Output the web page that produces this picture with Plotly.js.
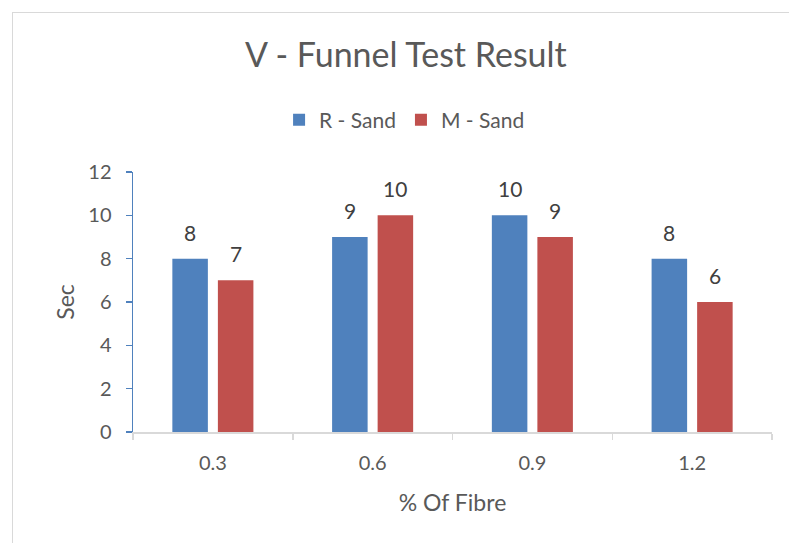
<!DOCTYPE html>
<html>
<head>
<meta charset="utf-8">
<script src="https://cdn.plot.ly/plotly-3.0.1.min.js"></script>
<style>
  html, body { margin: 0; padding: 0; background: #ffffff; }
  #wrap { position: relative; width: 789px; height: 543px; overflow: hidden; }
  #chart { position: absolute; left: 0; top: 0; width: 789px; height: 543px; }
  /* chart-area frame */
  #frame { position: absolute; left: 12px; top: 12px; width: 900px; height: 700px;
           border: 1.5px solid #d9d9d9; pointer-events: none; box-sizing: border-box; }
</style>
</head>
<body>
<div id="wrap">
  <div id="chart"></div>
  <div id="frame"></div>
</div>
<script>
// V-funnel flow times (seconds) for each fibre dosage
var fibre = ['0.3', '0.6', '0.9', '1.2'];
var rSand = [8, 9, 10, 8];
var mSand = [7, 10, 9, 6];
var seriesNames = ['R - Sand', 'M - Sand'];
var colors = ['#4F81BD', '#C0504D'];

var FONT = 'Lato, "Open Sans", sans-serif';

var traces = [rSand, mSand].map(function (vals, i) {
  return {
    type: 'bar',
    name: seriesNames[i],
    x: fibre,
    y: vals,
    marker: { color: colors[i] },
    hoverinfo: 'x+y+name'
  };
});

// value labels above each bar, taken from the same series
// (category axis positions are the category indices)
var shifts = [-22.75, 22.75];
var annotations = [];
[rSand, mSand].forEach(function (vals, i) {
  vals.forEach(function (v, j) {
    annotations.push({
      x: j, y: v, xref: 'x', yref: 'y',
      text: String(v), showarrow: false,
      xanchor: 'center', yanchor: 'bottom',
      xshift: shifts[i], yshift: 12,
      font: { family: FONT, size: 21, color: '#404040' }
    });
  });
});

var layout = {
  width: 789, height: 543,
  margin: { l: 133, r: 17, t: 172, b: 111 },
  paper_bgcolor: 'rgba(0,0,0,0)',
  plot_bgcolor: '#ffffff',
  font: { family: FONT, color: '#595959' },
  title: {
    text: 'V - Funnel Test Result',
    font: { family: FONT, size: 34, color: '#595959' },
    xref: 'paper', x: 0.427, xanchor: 'center',
    yref: 'container', y: 0.898, yanchor: 'middle'
  },
  showlegend: true,
  legend: {
    orientation: 'h',
    xref: 'paper', x: 0.425, xanchor: 'center',
    yref: 'container', y: 0.779, yanchor: 'middle',
    font: { family: FONT, size: 21, color: '#595959' },
    itemwidth: 30,
    traceorder: 'normal'
  },
  barmode: 'group',
  bargap: 0.43,
  bargroupgap: 0.22,
  xaxis: {
    type: 'category',
    showline: true, linecolor: '#d9d9d9', linewidth: 1.5,
    ticks: 'outside', tickson: 'boundaries', ticklen: 6, tickcolor: '#d9d9d9', tickwidth: 1.5,
    ticklabelstandoff: 12,
    tickfont: { family: FONT, size: 20, color: '#595959' },
    showgrid: false, zeroline: false,
    title: { text: '% Of Fibre', font: { family: FONT, size: 23, color: '#595959' }, standoff: 22 }
  },
  yaxis: {
    range: [0, 12], dtick: 2, tick0: 0,
    showline: true, linecolor: '#4F81BD', linewidth: 1.5,
    ticks: 'outside', ticklen: 6, tickcolor: '#4F81BD', tickwidth: 1.5,
    ticklabelstandoff: 10,
    tickfont: { family: FONT, size: 20, color: '#595959' },
    showgrid: false, zeroline: false,
    title: { text: 'Sec', font: { family: FONT, size: 23, color: '#595959' }, standoff: 7 }
  },
  annotations: annotations
};

Plotly.newPlot('chart', traces, layout, { displayModeBar: false, staticPlot: true });
</script>
</body>
</html>
